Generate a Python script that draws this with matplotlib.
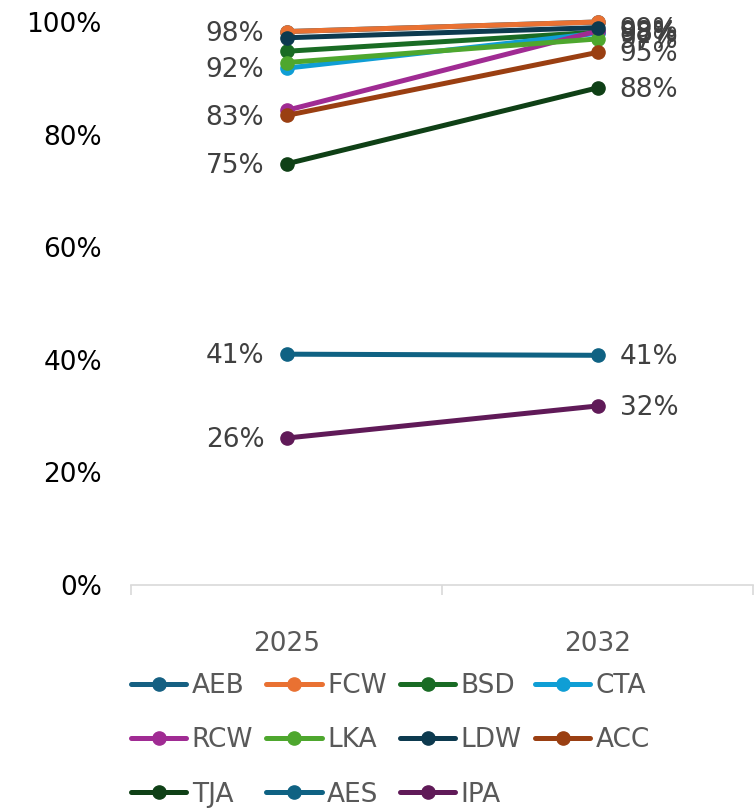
import matplotlib.pyplot as plt
from matplotlib.ticker import FuncFormatter

# data
years = ["2025", "2032"]
features = ["AEB", "FCW", "BSD", "CTA", "RCW", "LKA", "LDW", "ACC", "TJA", "AES", "IPA"]
start_vals = [98.3, 98.3, 94.8, 91.8, 84.3, 92.8, 97.2, 83.4, 74.8, 41.0, 26.1]
end_vals = [100.0, 100.0, 98.2, 98.0, 98.4, 97.0, 99.0, 94.6, 88.3, 40.8, 31.8]
colors = ["#156082", "#E97132", "#196B24", "#0F9ED5", "#A02B93", "#4EA72E",
          "#0D3A4F", "#9A3F12", "#0F4016", "#0F6283", "#601A58"]

# which series carry a value label at each end
left_labels = ["FCW", "CTA", "ACC", "TJA", "AES", "IPA"]
right_labels = ["LDW", "BSD", "CTA", "RCW", "LKA", "ACC", "TJA", "AES", "IPA"]

plt.rcParams['font.family'] = ['DejaVu Sans']
fs = 19

fig = plt.figure(figsize=(7.54, 8.10), dpi=100)
ax = fig.add_axes([131 / 754, 1 - 585 / 810, 622 / 754, (585 - 22) / 810])

x = [0, 1]
handles = []
for name, a, b, c in zip(features, start_vals, end_vals, colors):
    h, = ax.plot(x, [a, b], color=c, lw=3.6, marker="o", ms=9.5,
                 solid_capstyle="round", clip_on=False, label=name)
    handles.append(h)
    if name in left_labels:
        ax.annotate(f"{a:.0f}%", (0, a), xytext=(-16, -1.5), textcoords="offset points",
                    ha="right", va="center", fontsize=fs, color="#404040")
    if name in right_labels:
        ax.annotate(f"{b:.0f}%", (1, b), xytext=(16, -1.5), textcoords="offset points",
                    ha="left", va="center", fontsize=fs, color="#404040")

ax.set_xlim(-0.5, 1.5)
ax.set_ylim(0, 100)
ax.set_yticks(range(0, 101, 20))
ax.yaxis.set_major_formatter(FuncFormatter(lambda v, p: f"{v:.0f}%"))
ax.tick_params(axis="y", length=0, pad=21, labelsize=fs, labelcolor="#000000")

ax.set_xticks(x)
ax.set_xticklabels(years)
ax.set_xticks([-0.5, 0.5, 1.5], minor=True)
ax.tick_params(axis="x", which="major", length=0, pad=33, labelsize=fs, labelcolor="#595959")
ax.tick_params(axis="x", which="minor", length=7.2, width=1.2, color="#D9D9D9")

for s in ["top", "right", "left"]:
    ax.spines[s].set_visible(False)
ax.spines["bottom"].set_color("#D9D9D9")
ax.spines["bottom"].set_linewidth(1.2)

# legend filled row by row like the original
order = [0, 4, 8, 1, 5, 9, 2, 6, 10, 3, 7]
leg = fig.legend([handles[i] for i in order], [features[i] for i in order],
                 loc="upper left", bbox_to_anchor=(131 / 754, 0.169), ncol=4,
                 frameon=False, fontsize=fs, handlelength=2.1, handletextpad=0.2,
                 columnspacing=0.5, labelspacing=1.07, borderpad=0, borderaxespad=0)
for t in leg.get_texts():
    t.set_color("#595959")

fig.savefig("out.png", dpi=100)
